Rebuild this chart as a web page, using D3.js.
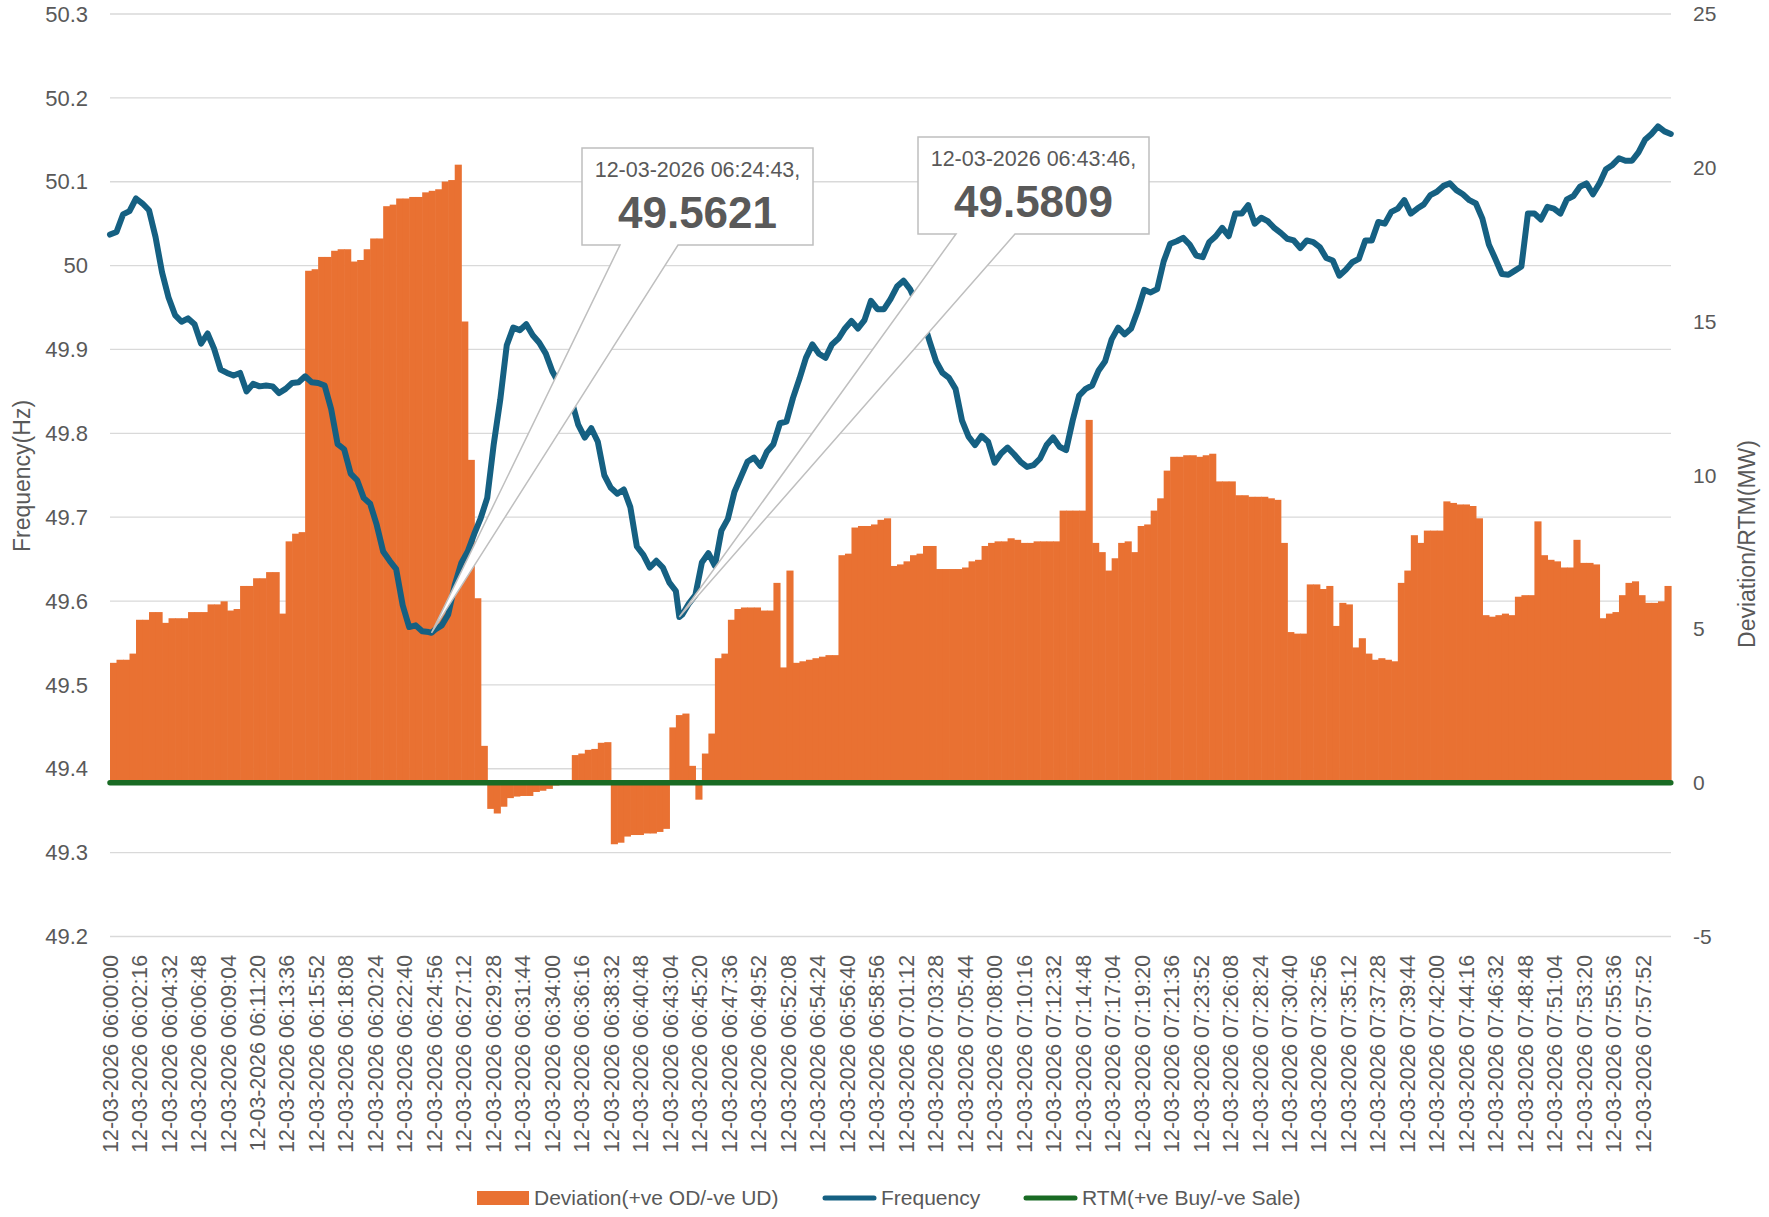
<!DOCTYPE html>
<html><head><meta charset="utf-8">
<script src="https://cdn.jsdelivr.net/npm/d3@7"></script>
<style>
html,body{margin:0;padding:0;background:#fff;}
svg text{font-family:"Liberation Sans",Arial,sans-serif;fill:#595959;}
</style></head><body>
<svg id="chart" width="1769" height="1217"></svg>
<script>
// ---------- DATA ----------
const dateLabel = "12-03-2026";
const startClock = "06:00:00";
const endClock = "07:59:59";
const sampleStepSec = 30;   // one reading every 30 s from 06:00:00

// Frequency (Hz), one value per 30 s from 06:00:00 (+ last reading at 07:59:59)
const frequencyHz = [
  50.037, 50.040, 50.061, 50.065, 50.080, 50.074, 50.066, 50.034, 49.992, 49.962,
  49.941, 49.933, 49.937, 49.930, 49.907, 49.919, 49.901, 49.876, 49.872, 49.869,
  49.872, 49.850, 49.859, 49.856, 49.857, 49.856, 49.848, 49.853, 49.860, 49.861,
  49.868, 49.861, 49.860, 49.857, 49.829, 49.787, 49.781, 49.752, 49.744, 49.723,
  49.716, 49.691, 49.659, 49.648, 49.638, 49.595, 49.569, 49.571, 49.564, 49.563,
  49.566, 49.571, 49.584, 49.619, 49.645, 49.659, 49.680, 49.699, 49.723, 49.787,
  49.840, 49.905, 49.926, 49.923, 49.930, 49.917, 49.908, 49.895, 49.874, 49.860,
  49.848, 49.838, 49.810, 49.795, 49.806, 49.790, 49.750, 49.735, 49.728, 49.733,
  49.712, 49.665, 49.655, 49.640, 49.648, 49.640, 49.622, 49.612, 49.584, 49.597,
  49.607, 49.646, 49.657, 49.642, 49.684, 49.698, 49.730, 49.748, 49.766, 49.771,
  49.761, 49.778, 49.787, 49.812, 49.814, 49.842, 49.865, 49.890, 49.906, 49.895,
  49.890, 49.906, 49.913, 49.925, 49.934, 49.925, 49.935, 49.958, 49.948, 49.948,
  49.960, 49.975, 49.982, 49.972, 49.955, 49.935, 49.910, 49.886, 49.872, 49.866,
  49.853, 49.815, 49.796, 49.786, 49.797, 49.790, 49.765, 49.776, 49.783, 49.775,
  49.766, 49.760, 49.762, 49.770, 49.786, 49.795, 49.784, 49.780, 49.815, 49.845,
  49.853, 49.857, 49.875, 49.886, 49.912, 49.926, 49.918, 49.925, 49.946, 49.971,
  49.968, 49.972, 50.005, 50.026, 50.029, 50.033, 50.025, 50.012, 50.010, 50.028,
  50.035, 50.045, 50.035, 50.062, 50.062, 50.072, 50.050, 50.057, 50.053, 50.045,
  50.039, 50.032, 50.030, 50.021, 50.030, 50.028, 50.022, 50.009, 50.006, 49.988,
  49.995, 50.004, 50.008, 50.030, 50.030, 50.052, 50.050, 50.064, 50.068, 50.078,
  50.062, 50.068, 50.073, 50.084, 50.088, 50.095, 50.098, 50.090, 50.085, 50.078,
  50.074, 50.056, 50.025, 50.008, 49.990, 49.989, 49.994, 49.999, 50.062, 50.062,
  50.055, 50.070, 50.068, 50.062, 50.079, 50.083, 50.094, 50.098, 50.085, 50.098,
  50.115, 50.120, 50.128, 50.125, 50.125, 50.135, 50.150, 50.157, 50.166, 50.160,
  50.157
];

// Deviation (MW), one bar per 30 s from 06:00:00
const deviationMW = [
  3.9, 4.0, 4.0, 4.2, 5.3, 5.3, 5.55, 5.55, 5.2, 5.35,
  5.35, 5.35, 5.55, 5.55, 5.55, 5.8, 5.8, 5.9, 5.6, 5.65,
  6.4, 6.4, 6.65, 6.65, 6.85, 6.85, 5.5, 7.85, 8.1, 8.15,
  16.65, 16.7, 17.1, 17.1, 17.3, 17.35, 17.35, 16.95, 17.0, 17.35,
  17.7, 17.7, 18.75, 18.8, 19.0, 19.0, 19.05, 19.05, 19.2, 19.25,
  19.3, 19.55, 19.6, 20.1, 15.0, 10.5, 6.0, 1.2, -0.85, -1.0,
  -0.78, -0.5, -0.45, -0.43, -0.43, -0.3, -0.26, -0.2, -0.09, 0,
  0, 0.9, 0.95, 1.07, 1.1, 1.3, 1.32, -2.0, -1.95, -1.75,
  -1.7, -1.7, -1.65, -1.65, -1.6, -1.5, 1.8, 2.2, 2.25, 0.55,
  -0.55, 0.95, 1.6, 4.05, 4.2, 5.3, 5.65, 5.7, 5.7, 5.7,
  5.6, 5.6, 6.5, 3.75, 6.9, 3.9, 3.95, 4.0, 4.05, 4.1,
  4.15, 4.15, 7.4, 7.45, 8.3, 8.35, 8.35, 8.4, 8.55, 8.6,
  7.05, 7.1, 7.2, 7.4, 7.45, 7.7, 7.7, 6.95, 6.95, 6.95,
  6.95, 7.0, 7.2, 7.25, 7.7, 7.8, 7.85, 7.85, 7.95, 7.9,
  7.8, 7.8, 7.85, 7.85, 7.85, 7.85, 8.85, 8.85, 8.85, 8.85,
  11.8, 7.8, 7.5, 6.9, 7.3, 7.8, 7.85, 7.5, 8.35, 8.4,
  8.85, 9.25, 10.15, 10.6, 10.6, 10.65, 10.65, 10.6, 10.65, 10.7,
  9.8, 9.8, 9.8, 9.35, 9.35, 9.3, 9.3, 9.3, 9.25, 9.2,
  7.8, 4.9, 4.85, 4.85, 6.45, 6.45, 6.3, 6.4, 5.1, 5.85,
  5.8, 4.4, 4.7, 4.2, 4.0, 4.05, 4.0, 3.95, 6.5, 6.9,
  8.05, 7.8, 8.2, 8.2, 8.2, 9.15, 9.1, 9.05, 9.05, 9.0,
  8.6, 5.45, 5.4, 5.45, 5.5, 5.45, 6.05, 6.1, 6.1, 8.5,
  7.4, 7.25, 7.2, 7.0, 7.0, 7.9, 7.15, 7.15, 7.1, 5.35,
  5.5, 5.55, 6.1, 6.5, 6.55, 6.1, 5.85, 5.85, 5.9, 6.4
];

// RTM (MW), same sampling as frequency
const rtmMW = [
  0,0,0,0,0,0,0,0,0,0, 0,0,0,0,0,0,0,0,0,0, 0,0,0,0,0,0,0,0,0,0,
  0,0,0,0,0,0,0,0,0,0, 0,0,0,0,0,0,0,0,0,0, 0,0,0,0,0,0,0,0,0,0,
  0,0,0,0,0,0,0,0,0,0, 0,0,0,0,0,0,0,0,0,0, 0,0,0,0,0,0,0,0,0,0,
  0,0,0,0,0,0,0,0,0,0, 0,0,0,0,0,0,0,0,0,0, 0,0,0,0,0,0,0,0,0,0,
  0,0,0,0,0,0,0,0,0,0, 0,0,0,0,0,0,0,0,0,0, 0,0,0,0,0,0,0,0,0,0,
  0,0,0,0,0,0,0,0,0,0, 0,0,0,0,0,0,0,0,0,0, 0,0,0,0,0,0,0,0,0,0,
  0,0,0,0,0,0,0,0,0,0, 0,0,0,0,0,0,0,0,0,0, 0,0,0,0,0,0,0,0,0,0,
  0,0,0,0,0,0,0,0,0,0, 0,0,0,0,0,0,0,0,0,0, 0,0,0,0,0,0,0,0,0,0,
  0
];

// Annotated extreme readings
const calloutClocks = ["06:24:43", "06:43:46"];
const calloutValues = [49.5621, 49.5809];

// Tick labels
const xTickLabels = [
  "12-03-2026 06:00:00","12-03-2026 06:02:16","12-03-2026 06:04:32","12-03-2026 06:06:48",
  "12-03-2026 06:09:04","12-03-2026 06:11:20","12-03-2026 06:13:36","12-03-2026 06:15:52",
  "12-03-2026 06:18:08","12-03-2026 06:20:24","12-03-2026 06:22:40","12-03-2026 06:24:56",
  "12-03-2026 06:27:12","12-03-2026 06:29:28","12-03-2026 06:31:44","12-03-2026 06:34:00",
  "12-03-2026 06:36:16","12-03-2026 06:38:32","12-03-2026 06:40:48","12-03-2026 06:43:04",
  "12-03-2026 06:45:20","12-03-2026 06:47:36","12-03-2026 06:49:52","12-03-2026 06:52:08",
  "12-03-2026 06:54:24","12-03-2026 06:56:40","12-03-2026 06:58:56","12-03-2026 07:01:12",
  "12-03-2026 07:03:28","12-03-2026 07:05:44","12-03-2026 07:08:00","12-03-2026 07:10:16",
  "12-03-2026 07:12:32","12-03-2026 07:14:48","12-03-2026 07:17:04","12-03-2026 07:19:20",
  "12-03-2026 07:21:36","12-03-2026 07:23:52","12-03-2026 07:26:08","12-03-2026 07:28:24",
  "12-03-2026 07:30:40","12-03-2026 07:32:56","12-03-2026 07:35:12","12-03-2026 07:37:28",
  "12-03-2026 07:39:44","12-03-2026 07:42:00","12-03-2026 07:44:16","12-03-2026 07:46:32",
  "12-03-2026 07:48:48","12-03-2026 07:51:04","12-03-2026 07:53:20","12-03-2026 07:55:36",
  "12-03-2026 07:57:52"
];
const leftTicks = [49.2, 49.3, 49.4, 49.5, 49.6, 49.7, 49.8, 49.9, 50, 50.1, 50.2, 50.3];
const rightTicks = [-5, 0, 5, 10, 15, 20, 25];
const leftTitle = "Frequency(Hz)";
const rightTitle = "Deviation/RTM(MW)";
const legendLabels = ["Deviation(+ve OD/-ve UD)", "Frequency", "RTM(+ve Buy/-ve Sale)"];

// ---------- STYLE / LAYOUT ----------
const C = {orange:"#E97132", blue:"#156082", green:"#196B24", grid:"#D9D9D9", text:"#595959", box:"#BFBFBF"};
const plot = {left:110, right:1671, top:14, bottom:936.5};
const calloutBoxes = [
  {x0:582, y0:148, x1:813, y1:245, wl:620, wr:678},
  {x0:918, y0:137, x1:1149, y1:234, wl:956, wr:1015}
];

// ---------- CHART ----------
const clockToSec = s => { const [h,m,sec] = s.split(":").map(Number); return h*3600 + m*60 + sec; };
const t0 = clockToSec(startClock);
const tEnd = clockToSec(endClock) - t0;
const nBars = deviationMW.length;
const gridTimes = d3.range(nBars).map(i => i*sampleStepSec).concat([tEnd]);

const x = d3.scaleLinear().domain([0, 7200]).range([plot.left, plot.right]);
const yL = d3.scaleLinear().domain([49.2, 50.3]).range([plot.bottom, plot.top]);
const yR = d3.scaleLinear().domain([-5, 25]).range([plot.bottom, plot.top]);

const svg = d3.select("#chart");

// gridlines
svg.append("g").selectAll("line").data(leftTicks).join("line")
  .attr("x1", plot.left).attr("x2", plot.right)
  .attr("y1", d => yL(d)).attr("y2", d => yL(d))
  .attr("stroke", C.grid).attr("stroke-width", 1.3);

// left axis labels
svg.append("g").selectAll("text").data(leftTicks).join("text")
  .attr("x", 88).attr("y", d => yL(d)).attr("dy", "0.35em")
  .attr("text-anchor", "end").attr("font-size", 22)
  .text(d => d3.format("~g")(d));

// right axis labels
svg.append("g").selectAll("text").data(rightTicks).join("text")
  .attr("x", 1693).attr("y", d => yR(d)).attr("dy", "0.35em")
  .attr("text-anchor", "start").attr("font-size", 21)
  .text(d => d);

// x labels
svg.append("g").selectAll("text").data(xTickLabels).join("text")
  .attr("transform", d => `translate(${x(clockToSec(d.split(" ")[1]) - t0 + 0.5)},955) rotate(-90)`)
  .attr("dy", "0.35em").attr("text-anchor", "end").attr("font-size", 21.3)
  .text(d => d);

// axis titles
svg.append("text").attr("transform", "translate(22,476) rotate(-90)")
  .attr("dy", "0.35em").attr("text-anchor", "middle").attr("font-size", 23).text(leftTitle);
svg.append("text").attr("transform", "translate(1747,544) rotate(-90)")
  .attr("dy", "0.35em").attr("text-anchor", "middle").attr("font-size", 23).text(rightTitle);

// deviation bars
svg.append("g").selectAll("rect").data(deviationMW).join("rect")
  .attr("x", (d,i) => x(i*sampleStepSec))
  .attr("width", (d,i) => x((i+1)*sampleStepSec) - x(i*sampleStepSec) + 0.6)
  .attr("y", d => yR(Math.max(0, d)))
  .attr("height", d => Math.abs(yR(d) - yR(0)))
  .attr("fill", C.orange);

// RTM line
svg.append("path")
  .datum(rtmMW.map((v,i) => [gridTimes[i], v]))
  .attr("d", d3.line().x(d => x(d[0])).y(d => yR(d[1])))
  .attr("fill", "none").attr("stroke", C.green).attr("stroke-width", 5.5).attr("stroke-linecap", "round");

// frequency line (grid readings + annotated readings)
const calloutPts = calloutClocks.map((c,i) => [clockToSec(c) - t0, calloutValues[i]]);
const freqPts = frequencyHz.map((v,i) => [gridTimes[i], v]).concat(calloutPts).sort((a,b) => a[0]-b[0]);
svg.append("path")
  .datum(freqPts)
  .attr("d", d3.line().x(d => x(d[0])).y(d => yL(d[1])))
  .attr("fill", "none").attr("stroke", C.blue).attr("stroke-width", 6)
  .attr("stroke-linejoin", "round").attr("stroke-linecap", "round");

// callouts
calloutPts.forEach((p, i) => {
  const b = calloutBoxes[i];
  const ax = x(p[0]), ay = yL(p[1]);
  const path = `M${b.x0},${b.y0}H${b.x1}V${b.y1}H${b.wr}L${ax},${ay}L${b.wl},${b.y1}H${b.x0}Z`;
  svg.append("path").attr("d", path).attr("fill", "#fff").attr("stroke", C.box).attr("stroke-width", 1.5);
  const cx = (b.x0 + b.x1) / 2;
  svg.append("text").attr("x", cx).attr("y", b.y0 + 29).attr("text-anchor", "middle")
    .attr("font-size", 21.5).text(`${dateLabel} ${calloutClocks[i]},`);
  svg.append("text").attr("x", cx).attr("y", b.y0 + 80).attr("text-anchor", "middle")
    .attr("font-size", 44).attr("font-weight", "bold").text(d3.format(".4f")(calloutValues[i]));
});

// legend
const lg = svg.append("g");
lg.append("rect").attr("x", 477).attr("y", 1191).attr("width", 52).attr("height", 14).attr("fill", C.orange);
lg.append("text").attr("x", 534).attr("y", 1205).attr("font-size", 21).text(legendLabels[0]);
lg.append("line").attr("x1", 825).attr("x2", 874).attr("y1", 1198).attr("y2", 1198)
  .attr("stroke", C.blue).attr("stroke-width", 5).attr("stroke-linecap", "round");
lg.append("text").attr("x", 881).attr("y", 1205).attr("font-size", 21).text(legendLabels[1]);
lg.append("line").attr("x1", 1026).attr("x2", 1075).attr("y1", 1198).attr("y2", 1198)
  .attr("stroke", C.green).attr("stroke-width", 5).attr("stroke-linecap", "round");
lg.append("text").attr("x", 1082).attr("y", 1205).attr("font-size", 21).text(legendLabels[2]);
</script>
</body></html>
